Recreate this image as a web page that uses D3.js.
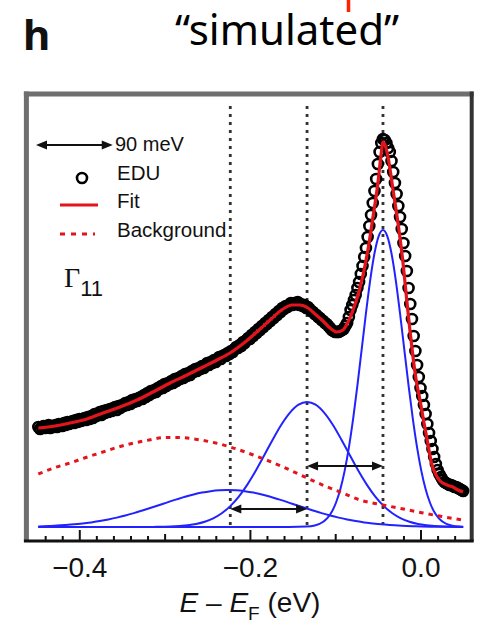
<!DOCTYPE html>
<html>
<head>
<meta charset="utf-8">
<script src="https://cdn.jsdelivr.net/npm/d3@7"></script>
<style>
  body { margin: 0; background: #fff; }
  svg { display: block; }
</style>
</head>
<body>
<svg id="chart" width="478" height="630"></svg>
<script>
// ---------------- data ----------------
// EDU spectrum: measured on a uniform energy grid (eV), intensity in arb. units
const eduStart = -0.448;
const eduStep = 0.002;
const eduCounts = [
  100, 98, 100, 101, 99, 100, 102, 99, 101, 100,
  102, 100, 103, 102, 101, 104, 102, 105, 103, 104,
  106, 104, 107, 105, 108, 106, 107, 109, 107, 110,
  108, 111, 109, 113, 111, 112, 115, 112, 116, 114,
  117, 115, 118, 116, 119, 120, 117, 121, 119, 122,
  121, 124, 122, 125, 123, 127, 125, 128, 126, 129,
  130, 128, 132, 130, 134, 132, 136, 134, 137, 135,
  139, 138, 141, 139, 143, 141, 144, 143, 146, 144,
  148, 146, 149, 148, 151, 149, 153, 151, 154, 152,
  156, 155, 158, 156, 159, 158, 161, 159, 162, 164,
  162, 165, 164, 167, 165, 168, 170, 168, 171, 172,
  171, 174, 173, 176, 175, 178, 180, 179, 182, 181,
  185, 184, 187, 189, 188, 192, 191, 195, 194, 198,
  197, 201, 200, 204, 203, 207, 206, 210, 209, 213,
  212, 216, 215, 219, 218, 221, 220, 222, 224, 222,
  224, 223, 225, 222, 223, 221, 222, 219, 220, 218,
  216, 215, 213, 212, 210, 209, 207, 206, 204, 203,
  201, 199, 197, 196, 195, 195, 195, 196, 197, 198,
  201, 204, 210, 217, 222, 227, 232, 239, 245, 253,
  261, 270, 279, 290, 301, 312, 324, 336, 348, 363,
  375, 384, 388, 387, 384, 379, 375, 366, 355, 344,
  333, 321, 310, 298, 284, 271, 256, 239, 223, 208,
  191, 176, 162, 150, 139, 131, 122, 113, 103, 94,
  86, 78, 70, 63, 57, 53, 50, 47, 45, 44,
  43, 42, 42, 41, 40, 40, 39, 38, 37, 36
];

// total fit
const fitEnergy = [
  -0.448, -0.4285, -0.4109, -0.3909, -0.3722, -0.3523, -0.3323, -0.3136, -0.2937, -0.2737,
  -0.2550, -0.2386, -0.2233, -0.2116, -0.1999, -0.1881, -0.1764, -0.1612, -0.1506, -0.1413,
  -0.1319, -0.1237, -0.1143, -0.1061, -0.0979, -0.0909, -0.0850, -0.0791, -0.0733, -0.0674,
  -0.0615, -0.0557, -0.0498, -0.0463, -0.0440, -0.0416, -0.0381, -0.0322, -0.0264, -0.0205,
  -0.0158, -0.0123, -0.0088, -0.0053, -0.0006, 0.0041, 0.0076, 0.0135, 0.0182, 0.0229,
  0.0311, 0.0381, 0.0440, 0.0498
];
const fitCounts = [
  99, 101, 104, 108, 114, 120, 127, 135, 144, 152,
  160, 167, 174, 181, 189, 198, 207, 218, 222, 222,
  219, 213, 206, 199, 195, 197, 205, 217, 232, 252,
  278, 310, 345, 372, 385, 382, 370, 337, 304, 264,
  224, 196, 170, 148, 127, 104, 88, 62, 52, 46,
  42, 40, 37, 35
];

// background
const bgEnergy = [
  -0.448, -0.430, -0.411, -0.394, -0.376, -0.358, -0.341, -0.318, -0.300, -0.282,
  -0.258, -0.240, -0.223, -0.196, -0.161, -0.133, -0.112, -0.094, -0.071, -0.044,
  -0.020, 0.003, 0.025, 0.050
];
const bgCounts = [
  53, 59, 64, 69, 74, 79, 83, 87, 89.5, 89.5,
  87, 84, 80, 72, 60, 49, 41, 35, 27, 22,
  18, 14, 10.5, 7
];

// fitted components
const peakAEnergy = [
  -0.448, -0.154, -0.134, -0.124, -0.114, -0.109, -0.104, -0.099, -0.094, -0.089,
  -0.084, -0.079, -0.074, -0.069, -0.064, -0.059, -0.054, -0.049, -0.044, -0.039,
  -0.034, -0.029, -0.024, -0.019, -0.014, -0.009, -0.004, 0.001, 0.006, 0.011,
  0.016, 0.021, 0.026, 0.036, 0.046, 0.050
];
const peakACounts = [
  0, 0, 0.4, 1.5, 5.2, 9.1, 15.2, 24.5, 37.8, 55.9,
  79.4, 108.1, 141.4, 177.4, 213.5, 246.7, 273.5, 290.9, 297, 290.9,
  273.5, 246.7, 213.5, 177.4, 141.4, 108.1, 79.4, 55.9, 37.8, 24.5,
  15.2, 9.1, 5.2, 1.5, 0.4, 0.3
];
const peakBEnergy = [
  -0.448, -0.333, -0.313, -0.293, -0.273, -0.263, -0.253, -0.243, -0.233, -0.223,
  -0.213, -0.203, -0.193, -0.183, -0.173, -0.163, -0.153, -0.143, -0.133, -0.123,
  -0.113, -0.103, -0.093, -0.083, -0.073, -0.063, -0.053, -0.043, -0.033, -0.023,
  -0.013, -0.003, 0.007, 0.027, 0.047, 0.050
];
const peakBCounts = [
  0, 0, 0.1, 0.4, 1.7, 3.0, 5.2, 8.7, 13.8, 20.9,
  30.4, 42.4, 56.5, 72.0, 87.8, 102.5, 114.4, 122.3, 125, 122.3,
  114.4, 102.5, 87.8, 72.0, 56.5, 42.4, 30.4, 20.9, 13.8, 8.7,
  5.2, 3.0, 1.7, 0.4, 0.1, 0.1
];
const peakCEnergy = [
  -0.448, -0.436, -0.426, -0.416, -0.406, -0.396, -0.386, -0.376, -0.366, -0.356,
  -0.346, -0.336, -0.326, -0.316, -0.306, -0.296, -0.286, -0.276, -0.266, -0.256,
  -0.246, -0.236, -0.226, -0.216, -0.206, -0.196, -0.186, -0.176, -0.166, -0.156,
  -0.146, -0.136, -0.126, -0.116, -0.106, -0.096, -0.086, -0.076, -0.066, -0.056,
  -0.046, -0.036, -0.026, -0.016, -0.006, 0.014, 0.034, 0.050
];
const peakCCounts = [
  0.6, 1.0, 1.4, 2.0, 2.7, 3.6, 4.6, 6.0, 7.6, 9.4,
  11.5, 13.9, 16.5, 19.2, 22.0, 24.9, 27.6, 30.2, 32.5, 34.4,
  35.8, 36.7, 37, 36.7, 35.8, 34.4, 32.5, 30.2, 27.6, 24.9,
  22.0, 19.2, 16.5, 13.9, 11.5, 9.4, 7.6, 6.0, 4.6, 3.6,
  2.7, 2.0, 1.4, 1.0, 0.7, 0.35, 0.15, 0.08
];

// peak positions (eV) marked by dotted guides, 90 meV apart
const guideEnergies = [-0.223, -0.133, -0.044];
const spacingMeV = 90;

// axis ticks
const majorTicks = [-0.4, -0.2, 0.0];
const mediumTicks = [-0.3, -0.1];
const minorTicks = [-0.44, -0.42, -0.38, -0.36, -0.34, -0.32, -0.28, -0.26, -0.24, -0.22,
                    -0.18, -0.16, -0.14, -0.12, -0.08, -0.06, -0.04, -0.02, 0.02, 0.04];

const legendLabels = ["EDU", "Fit", "Background"];

// ---------------- drawing ----------------
const svg = d3.select("#chart");
const x = d3.scaleLinear().domain([-0.462, 0.06]).range([26.4, 471.7]);
const y = d3.scaleLinear().domain([-14, 433]).range([541, 94]);

const ink = "#111";
const red = "#e3141b";
const blue = "#2222ff";

// panel letter and heading
svg.append("text").attr("x", 23).attr("y", 50)
  .attr("font-family", "'Noto Sans', 'Liberation Sans', sans-serif")
  .attr("font-weight", "bold").attr("font-size", 42).attr("fill", ink).text("h");
svg.append("text").attr("x", 287).attr("y", 45).attr("text-anchor", "middle")
  .attr("font-family", "'Noto Sans', 'Open Sans', sans-serif")
  .attr("font-size", 42).attr("fill", "#000").text("\u201Csimulated\u201D");
svg.append("line").attr("x1", 348.5).attr("x2", 348.5).attr("y1", 0).attr("y2", 12)
  .attr("stroke", "#ff2200").attr("stroke-width", 3.5);

// dotted guides
svg.append("g").selectAll("line").data(guideEnergies).join("line")
  .attr("x1", d => x(d)).attr("x2", d => x(d))
  .attr("y1", y(421)).attr("y2", y(0))
  .attr("stroke", "#333").attr("stroke-width", 2.8)
  .attr("stroke-dasharray", "3,5");

// EDU markers
const edu = eduCounts.map((c, i) => ({ e: eduStart + eduStep * i, c }));
svg.append("g").selectAll("circle").data(edu).join("circle")
  .attr("cx", d => x(d.e)).attr("cy", d => y(d.c)).attr("r", 5)
  .attr("fill", "none").attr("stroke", "#000").attr("stroke-width", 2.6);

const line = d3.line().x(d => x(d[0])).y(d => y(d[1])).curve(d3.curveMonotoneX);
const zipE = (es, cs) => es.map((e, i) => [e, cs[i]]);

// components
[[peakCEnergy, peakCCounts], [peakBEnergy, peakBCounts], [peakAEnergy, peakACounts]]
  .forEach(([es, cs]) => {
    svg.append("path").attr("d", line(zipE(es, cs)))
      .attr("fill", "none").attr("stroke", blue).attr("stroke-width", 2);
  });

// background
svg.append("path").attr("d", line(zipE(bgEnergy, bgCounts)))
  .attr("fill", "none").attr("stroke", red).attr("stroke-width", 3)
  .attr("stroke-dasharray", "4.5,5");

// fit
svg.append("path").attr("d", line(zipE(fitEnergy, fitCounts)))
  .attr("fill", "none").attr("stroke", red).attr("stroke-width", 3.2)
  .attr("stroke-linejoin", "round");

// double-headed arrow helper
function doubleArrow(x1, x2, yy) {
  const g = svg.append("g");
  g.append("line").attr("x1", x1 + 6).attr("x2", x2 - 6).attr("y1", yy).attr("y2", yy)
    .attr("stroke", ink).attr("stroke-width", 2);
  const L = 11, H = 4.5;
  g.append("path").attr("d", `M${x1},${yy}L${x1 + L},${yy - H}L${x1 + L},${yy + H}Z`).attr("fill", ink);
  g.append("path").attr("d", `M${x2},${yy}L${x2 - L},${yy - H}L${x2 - L},${yy + H}Z`).attr("fill", ink);
}
doubleArrow(x(guideEnergies[1]), x(guideEnergies[2]), y(61));
doubleArrow(x(guideEnergies[0]), x(guideEnergies[1]), y(18));

// legend
const lgFont = "'Liberation Sans', Arial, sans-serif";
const barLen = x(spacingMeV / 1000) - x(0);
doubleArrow(36, 36 + barLen, 145);
svg.append("text").attr("x", 115).attr("y", 151).attr("font-family", lgFont)
  .attr("font-size", 20).attr("fill", ink).text(spacingMeV + " meV");
svg.append("circle").attr("cx", 82).attr("cy", 178).attr("r", 5)
  .attr("fill", "none").attr("stroke", "#000").attr("stroke-width", 2.6);
svg.append("line").attr("x1", 60).attr("x2", 98).attr("y1", 205).attr("y2", 205)
  .attr("stroke", red).attr("stroke-width", 3);
svg.append("line").attr("x1", 60).attr("x2", 95).attr("y1", 234).attr("y2", 234)
  .attr("stroke", red).attr("stroke-width", 3).attr("stroke-dasharray", "5,6");
[180, 208, 237].forEach((yy, i) => {
  svg.append("text").attr("x", 117).attr("y", yy).attr("font-family", lgFont)
    .attr("font-size", 20.5).attr("fill", ink).text(legendLabels[i]);
});

// band label
const gl = svg.append("text").attr("x", 64).attr("y", 287).attr("fill", ink);
gl.append("tspan").attr("font-family", "'Liberation Serif', 'DejaVu Serif', serif")
  .attr("font-size", 28).text("\u0393");
gl.append("tspan").attr("font-family", lgFont).attr("font-size", 22).attr("dy", 9).text("11");

// x axis ticks (inward)
const axisG = svg.append("g").attr("transform", `translate(0,${y(-14)})`);
axisG.call(d3.axisBottom(x).tickValues(majorTicks).tickSize(-11).tickPadding(16)
  .tickFormat(d3.format(".1f")));
axisG.select(".domain").remove();
axisG.selectAll(".tick line").attr("stroke", ink).attr("stroke-width", 2);
axisG.selectAll(".tick text").attr("font-family", lgFont).attr("font-size", 28)
  .attr("fill", ink);
const midG = svg.append("g").attr("transform", `translate(0,${y(-14)})`);
midG.call(d3.axisBottom(x).tickValues(mediumTicks).tickSize(-7).tickFormat(""));
midG.select(".domain").remove();
midG.selectAll(".tick line").attr("stroke", ink).attr("stroke-width", 2);
const minG = svg.append("g").attr("transform", `translate(0,${y(-14)})`);
minG.call(d3.axisBottom(x).tickValues(minorTicks).tickSize(-5).tickFormat(""));
minG.select(".domain").remove();
minG.selectAll(".tick line").attr("stroke", ink).attr("stroke-width", 2);

// axis title
const t = svg.append("text").attr("x", 250).attr("y", 612).attr("text-anchor", "middle")
  .attr("font-family", lgFont).attr("font-size", 28).attr("fill", ink);
t.append("tspan").attr("font-style", "italic").text("E");
t.append("tspan").text(" \u2013 ");
t.append("tspan").attr("font-style", "italic").text("E");
t.append("tspan").attr("font-size", 19).attr("dy", 8).text("F");
t.append("tspan").attr("dy", -8).text(" (eV)");

// frame
const [fx0, fx1] = x.range();
const [fy0, fy1] = [y(-14), y(433)];
svg.append("line").attr("x1", fx0).attr("x2", fx0).attr("y1", fy1 - 2.5).attr("y2", fy0)
  .attr("stroke", "#6f6f6f").attr("stroke-width", 5);
svg.append("line").attr("x1", fx0 - 2.5).attr("x2", fx1 + 2).attr("y1", fy1).attr("y2", fy1)
  .attr("stroke", "#6f6f6f").attr("stroke-width", 5);
svg.append("line").attr("x1", fx1).attr("x2", fx1).attr("y1", fy1 - 2.5).attr("y2", fy0)
  .attr("stroke", "#333").attr("stroke-width", 4);
svg.append("line").attr("x1", fx0 - 2.5).attr("x2", fx1 + 2).attr("y1", fy0).attr("y2", fy0)
  .attr("stroke", "#111").attr("stroke-width", 3);
</script>
</body>
</html>
